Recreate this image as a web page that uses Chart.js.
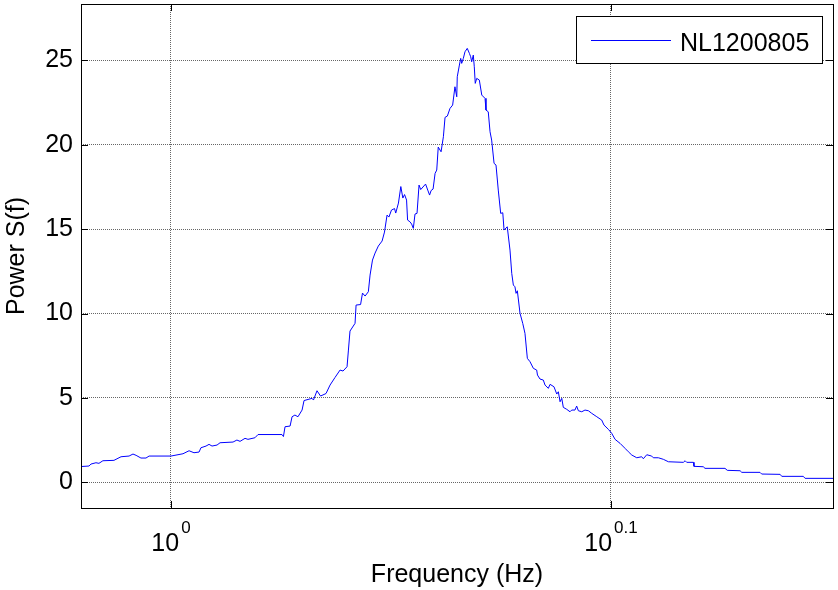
<!DOCTYPE html>
<html>
<head>
<meta charset="utf-8">
<title>Power spectrum NL1200805</title>
<script src="https://cdn.jsdelivr.net/npm/chart.js@4.4.1/dist/chart.umd.min.js"></script>
<style>
    html, body { margin: 0; padding: 0; background: #fff; }
    #wrap { width: 838px; height: 590px; position: relative; }
</style>
</head>
<body>
<div id="wrap"><canvas id="psd"></canvas></div>
<script>
(function () {
    "use strict";

    // --- data ---
    var SERIES_LABEL = "NL1200805";

    var freqHz = [
        0.9540, 0.9580, 0.9590, 0.9615, 0.9630, 0.9650, 0.9706, 0.9742, 0.9783, 0.9803,
        0.9819, 0.9844, 0.9870, 0.9886, 1.0000, 1.0063, 1.0095, 1.0121, 1.0148, 1.0158,
        1.0185, 1.0201, 1.0217, 1.0244, 1.0260, 1.0330, 1.0351, 1.0368, 1.0395, 1.0411,
        1.0449, 1.0466, 1.0598, 1.0606, 1.0615, 1.0643, 1.0654, 1.0670, 1.0687, 1.0710,
        1.0721, 1.0766, 1.0774, 1.0794, 1.0814, 1.0845, 1.0868, 1.0896, 1.0925, 1.0942,
        1.0965, 1.0973, 1.0982, 1.1011, 1.1017, 1.1043, 1.1054, 1.1069, 1.1088, 1.1098,
        1.1112, 1.1127, 1.1146, 1.1168, 1.1182, 1.1197, 1.1208, 1.1223, 1.1241, 1.1248,
        1.1264, 1.1278, 1.1290, 1.1300, 1.1312, 1.1318, 1.1332, 1.1342, 1.1352, 1.1362,
        1.1374, 1.1386, 1.1396, 1.1425, 1.1438, 1.1449, 1.1458, 1.1470, 1.1482, 1.1492,
        1.1501, 1.1518, 1.1532, 1.1542, 1.1556, 1.1572, 1.1588, 1.1602, 1.1613, 1.1616,
        1.1629, 1.1637, 1.1643, 1.1653, 1.1663, 1.1677, 1.1690, 1.1698, 1.1704, 1.1714,
        1.1720, 1.1726, 1.1735, 1.1751, 1.1766, 1.1786, 1.1792, 1.1806, 1.1817, 1.1827,
        1.1842, 1.1854, 1.1868, 1.1883, 1.1896, 1.1904, 1.1924, 1.1941, 1.1952, 1.1962,
        1.1972, 1.1979, 1.1987, 1.2004, 1.2021, 1.2035, 1.2050, 1.2067, 1.2088, 1.2109,
        1.2114, 1.2130, 1.2151, 1.2162, 1.2183, 1.2194, 1.2219, 1.2237, 1.2247, 1.2258,
        1.2269, 1.2279, 1.2301, 1.2322, 1.2333, 1.2354, 1.2365, 1.2376, 1.2398, 1.2419,
        1.2441, 1.2463, 1.2496, 1.2528, 1.2543, 1.2572, 1.2594, 1.2616, 1.2649, 1.2682,
        1.2704, 1.2727, 1.2760, 1.2793, 1.2804, 1.2827, 1.2860, 1.2871, 1.2905, 1.2939,
        1.2973, 1.3075, 1.3087, 1.3098, 1.3144, 1.3148, 1.3212, 1.3224, 1.3363, 1.3379,
        1.3469, 1.3481, 1.3610, 1.3622, 1.3754, 1.3766, 1.3922, 1.3935, 1.4140
    ];

    var power = [
        0.936, 0.966, 1.084, 1.161, 1.126, 1.280, 1.303, 1.517, 1.558, 1.677,
        1.600, 1.440, 1.440, 1.558, 1.558, 1.694, 1.872, 1.754, 1.795, 2.050,
        2.150, 2.251, 2.150, 2.210, 2.346, 2.387, 2.506, 2.429, 2.607, 2.547,
        2.642, 2.832, 2.832, 2.713, 3.294, 3.335, 3.886, 3.987, 3.886, 4.283,
        4.846, 4.976, 4.876, 5.427, 5.113, 5.261, 5.764, 6.209, 6.653, 6.594,
        6.848, 7.838, 8.963, 9.419, 10.504, 10.533, 11.214, 11.037, 11.292, 12.281,
        13.170, 13.584, 13.999, 14.295, 14.828, 15.835, 15.717, 16.131, 16.220, 15.954,
        16.546, 17.524, 16.843, 17.050, 16.724, 15.539, 15.438, 15.302, 15.047, 15.895,
        15.936, 17.612, 17.346, 17.672, 17.316, 17.020, 17.287, 17.376, 18.306, 18.501,
        19.864, 19.585, 20.474, 21.623, 21.700, 22.156, 22.352, 23.436, 22.844, 24.028,
        24.722, 25.118, 24.822, 25.118, 25.509, 25.711, 25.415, 25.213, 24.917, 25.314,
        24.621, 23.637, 23.934, 23.833, 22.944, 22.749, 22.056, 21.955, 20.770, 20.279,
        18.898, 18.798, 17.316, 15.936, 15.972, 14.947, 15.142, 13.762, 12.381, 11.688,
        11.588, 11.197, 11.351, 10.012, 9.419, 8.827, 7.346, 7.145, 6.754, 6.653,
        6.357, 6.120, 6.060, 5.764, 5.569, 5.806, 5.664, 5.231, 5.367, 4.775,
        4.976, 4.443, 4.325, 4.182, 4.283, 4.283, 4.520, 4.242, 4.182, 4.283,
        4.242, 4.088, 3.886, 3.691, 3.395, 3.140, 2.903, 2.547, 2.310, 2.014,
        1.813, 1.617, 1.457, 1.517, 1.398, 1.635, 1.558, 1.457, 1.457, 1.363,
        1.220, 1.185, 1.280, 1.185, 1.185, 0.948, 0.924, 0.829, 0.829, 0.711,
        0.687, 0.592, 0.592, 0.492, 0.474, 0.355, 0.355, 0.237, 0.237
    ];

    var xTickValues = [1, 1.2589];
    var xTickExponents = ["0", "0.1"];
    var yTickValues = [0, 5, 10, 15, 20, 25];

    var X_MIN = 0.954, X_MAX = 1.414;
    var Y_MIN = -1.52, Y_MAX = 28.34;

    var FONT = "'Liberation Sans', Arial, Helvetica, sans-serif";
    var LINE_COLOR = "#0000ff";
    var GRID_COLOR = "rgba(0, 0, 0, 0.6)";

    var points = freqHz.map(function (f, i) {
        return { x: f, y: power[i] };
    });

    function setTicks(values) {
        return function (scale) {
            scale.ticks = values.map(function (v) { return { value: v }; });
        };
    }

    // MATLAB-like box, inward tick marks, superscript tick labels and legend
    var matlabAxes = {
        id: "matlabAxes",
        afterDraw: function (chart) {
            var ctx = chart.ctx;
            var a = chart.chartArea;
            var xs = chart.scales.x;
            var ys = chart.scales.y;
            var TL = 7;

            ctx.save();
            ctx.strokeStyle = "#000";
            ctx.lineWidth = 1;
            ctx.strokeRect(a.left + 0.5, a.top + 0.5, a.right - a.left, a.bottom - a.top);

            ctx.beginPath();
            yTickValues.forEach(function (v) {
                var py = Math.round(ys.getPixelForValue(v)) + 0.5;
                ctx.moveTo(a.left, py); ctx.lineTo(a.left + TL, py);
                ctx.moveTo(a.right, py); ctx.lineTo(a.right - TL, py);
            });
            xTickValues.forEach(function (v) {
                var px = Math.round(xs.getPixelForValue(v)) + 0.5;
                ctx.moveTo(px, a.bottom); ctx.lineTo(px, a.bottom - TL);
                ctx.moveTo(px, a.top); ctx.lineTo(px, a.top + TL);
            });
            ctx.stroke();

            // x tick labels: 10 with a raised exponent
            ctx.fillStyle = "#000";
            ctx.textBaseline = "alphabetic";
            ctx.textAlign = "left";
            xTickValues.forEach(function (v, i) {
                var px = xs.getPixelForValue(v);
                ctx.font = "25px " + FONT;
                var wBase = ctx.measureText("10").width;
                ctx.font = "17px " + FONT;
                var wExp = ctx.measureText(xTickExponents[i]).width;
                var x0 = px - (wBase + 2 + wExp) / 2;
                ctx.font = "25px " + FONT;
                ctx.fillText("10", x0, a.bottom + 43);
                ctx.font = "17px " + FONT;
                ctx.fillText(xTickExponents[i], x0 + wBase + 2, a.bottom + 25);
            });

            // legend
            var lx = 576, ly = 16, lw = 246, lh = 47;
            ctx.fillStyle = "#fff";
            ctx.fillRect(lx, ly, lw, lh);
            ctx.strokeStyle = "#000";
            ctx.strokeRect(lx + 0.5, ly + 0.5, lw, lh);
            ctx.strokeStyle = LINE_COLOR;
            ctx.beginPath();
            ctx.moveTo(lx + 15, ly + 24.5);
            ctx.lineTo(lx + 95, ly + 24.5);
            ctx.stroke();
            ctx.fillStyle = "#000";
            ctx.font = "25px " + FONT;
            ctx.fillText(chart.data.datasets[0].label, lx + 104, ly + 35);
            ctx.restore();
        }
    };

    new Chart(document.getElementById("psd"), {
        type: "line",
        data: {
            datasets: [{
                label: SERIES_LABEL,
                data: points,
                borderColor: LINE_COLOR,
                backgroundColor: LINE_COLOR,
                borderWidth: 1,
                pointRadius: 0,
                tension: 0,
                fill: false
            }]
        },
        options: {
            responsive: true,
            maintainAspectRatio: false,
            animation: false,
            layout: { padding: { left: 0, top: 4, right: 5, bottom: 0 } },
            plugins: {
                legend: { display: false },
                tooltip: { enabled: false }
            },
            scales: {
                x: {
                    type: "logarithmic",
                    min: X_MIN,
                    max: X_MAX,
                    bounds: "data",
                    afterBuildTicks: setTicks(xTickValues),
                    afterFit: function (scale) {
                        scale.height = 82;
                        scale.paddingLeft = 0;
                        scale.paddingRight = 0;
                    },
                    ticks: { display: false },
                    grid: { color: GRID_COLOR, drawTicks: false },
                    border: { display: false, dash: [1, 1] },
                    title: {
                        display: true,
                        text: "Frequency (Hz)",
                        color: "#000",
                        font: { family: FONT, size: 25 },
                        padding: { top: 0, bottom: 0 }
                    }
                },
                y: {
                    type: "linear",
                    min: Y_MIN,
                    max: Y_MAX,
                    bounds: "data",
                    afterBuildTicks: setTicks(yTickValues),
                    afterFit: function (scale) {
                        scale.width = 81;
                        scale.paddingTop = 0;
                        scale.paddingBottom = 0;
                    },
                    ticks: {
                        color: "#000",
                        padding: 8,
                        font: { family: FONT, size: 25 }
                    },
                    grid: { color: GRID_COLOR, drawTicks: false },
                    border: { display: false, dash: [1, 1] },
                    title: {
                        display: true,
                        text: "Power S(f)",
                        color: "#000",
                        font: { family: FONT, size: 25 },
                        padding: { top: 2, bottom: 0 }
                    }
                }
            }
        },
        plugins: [matlabAxes]
    });
})();
</script>
</body>
</html>
